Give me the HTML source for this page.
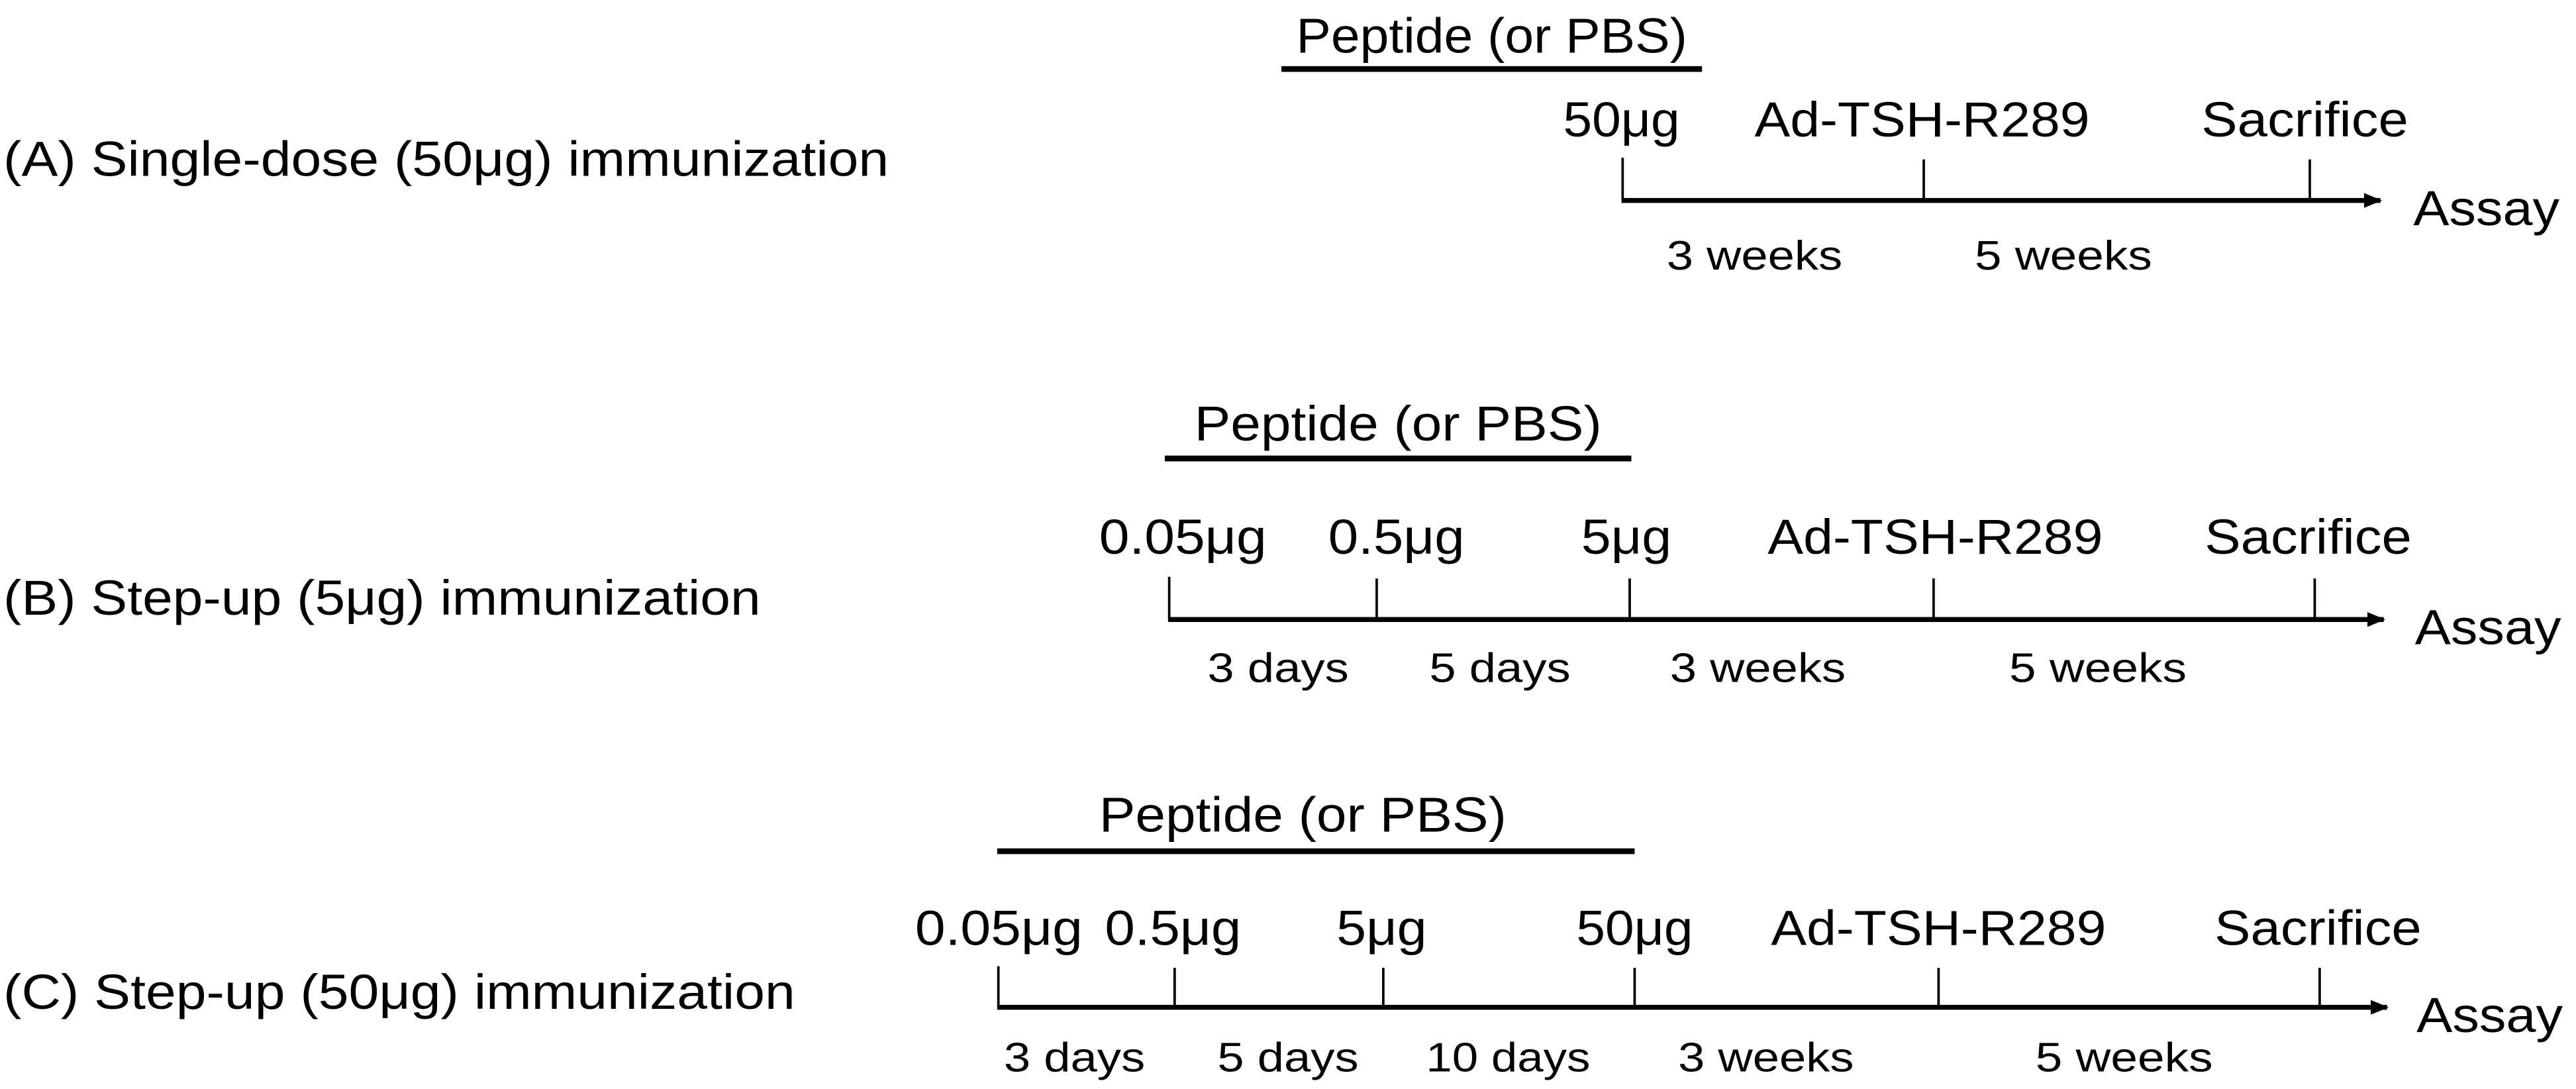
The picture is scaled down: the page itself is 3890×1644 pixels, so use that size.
<!DOCTYPE html>
<html><head><meta charset="utf-8"><style>
html,body{margin:0;padding:0;background:#fff;}
svg{display:block;}
text{font-family:"Liberation Sans",Arial,sans-serif;fill:#000;}
.m{font-size:30px;}
.s{font-size:25px;}
</style></head><body>
<svg width="3890" height="1644" viewBox="0 0 1568 662.7">
<defs><marker id="ar" markerWidth="11" markerHeight="10" refX="10" refY="5" orient="auto" markerUnits="userSpaceOnUse"><path d="M0,0.5 L11,5 L0,9.5 z" fill="#000"/></marker></defs>

<g>
<text class="m" x="2" y="107" textLength="539" lengthAdjust="spacingAndGlyphs">(A) Single-dose (50μg) immunization</text>
<text class="m" x="908" y="32" text-anchor="middle" textLength="238" lengthAdjust="spacingAndGlyphs">Peptide (or PBS)</text>
<line x1="780" y1="42" x2="1036" y2="42" stroke="#000" stroke-width="3.5"/>
<text class="m" x="987" y="83" text-anchor="middle" textLength="71" lengthAdjust="spacingAndGlyphs">50μg</text>
<text class="m" x="1170" y="83" text-anchor="middle" textLength="204" lengthAdjust="spacingAndGlyphs">Ad-TSH-R289</text>
<text class="m" x="1403" y="83" text-anchor="middle" textLength="126" lengthAdjust="spacingAndGlyphs">Sacrifice</text>
<line x1="987" y1="122" x2="1449" y2="122" stroke="#000" stroke-width="3" marker-end="url(#ar)"/>
<g stroke="#000" stroke-width="1.5">
<line x1="987.7" y1="96" x2="987.7" y2="122"/><line x1="1171" y1="97" x2="1171" y2="122"/><line x1="1406" y1="97" x2="1406" y2="122"/></g>
<text class="m" x="1469" y="137" textLength="89" lengthAdjust="spacingAndGlyphs">Assay</text>
<text class="s" x="1068" y="164" text-anchor="middle" textLength="107" lengthAdjust="spacingAndGlyphs">3 weeks</text>
<text class="s" x="1256" y="164" text-anchor="middle" textLength="108" lengthAdjust="spacingAndGlyphs">5 weeks</text>
</g>

<g>
<text class="m" x="2" y="374" textLength="461" lengthAdjust="spacingAndGlyphs">(B) Step-up (5μg) immunization</text>
<text class="m" x="851" y="268" text-anchor="middle" textLength="248" lengthAdjust="spacingAndGlyphs">Peptide (or PBS)</text>
<line x1="709" y1="279" x2="993" y2="279" stroke="#000" stroke-width="3.5"/>
<text class="m" x="720" y="337" text-anchor="middle" textLength="102" lengthAdjust="spacingAndGlyphs">0.05μg</text>
<text class="m" x="850" y="337" text-anchor="middle" textLength="83" lengthAdjust="spacingAndGlyphs">0.5μg</text>
<text class="m" x="990" y="337" text-anchor="middle" textLength="55" lengthAdjust="spacingAndGlyphs">5μg</text>
<text class="m" x="1178" y="337" text-anchor="middle" textLength="204" lengthAdjust="spacingAndGlyphs">Ad-TSH-R289</text>
<text class="m" x="1405" y="337" text-anchor="middle" textLength="126" lengthAdjust="spacingAndGlyphs">Sacrifice</text>
<line x1="711" y1="377" x2="1451" y2="377" stroke="#000" stroke-width="3" marker-end="url(#ar)"/>
<g stroke="#000" stroke-width="1.5">
<line x1="711.7" y1="351" x2="711.7" y2="377"/><line x1="838" y1="352" x2="838" y2="377"/><line x1="992" y1="352" x2="992" y2="377"/><line x1="1177" y1="352" x2="1177" y2="377"/><line x1="1409" y1="352" x2="1409" y2="377"/></g>
<text class="m" x="1470" y="392" textLength="89" lengthAdjust="spacingAndGlyphs">Assay</text>
<text class="s" x="778" y="415" text-anchor="middle" textLength="86" lengthAdjust="spacingAndGlyphs">3 days</text>
<text class="s" x="913" y="415" text-anchor="middle" textLength="86" lengthAdjust="spacingAndGlyphs">5 days</text>
<text class="s" x="1070" y="415" text-anchor="middle" textLength="107" lengthAdjust="spacingAndGlyphs">3 weeks</text>
<text class="s" x="1277" y="415" text-anchor="middle" textLength="108" lengthAdjust="spacingAndGlyphs">5 weeks</text>
</g>

<g>
<text class="m" x="2" y="614" textLength="482" lengthAdjust="spacingAndGlyphs">(C) Step-up (50μg) immunization</text>
<text class="m" x="793" y="506" text-anchor="middle" textLength="248" lengthAdjust="spacingAndGlyphs">Peptide (or PBS)</text>
<line x1="607" y1="518" x2="995" y2="518" stroke="#000" stroke-width="3.5"/>
<text class="m" x="608" y="575" text-anchor="middle" textLength="102" lengthAdjust="spacingAndGlyphs">0.05μg</text>
<text class="m" x="714" y="575" text-anchor="middle" textLength="83" lengthAdjust="spacingAndGlyphs">0.5μg</text>
<text class="m" x="841" y="575" text-anchor="middle" textLength="55" lengthAdjust="spacingAndGlyphs">5μg</text>
<text class="m" x="995" y="575" text-anchor="middle" textLength="71" lengthAdjust="spacingAndGlyphs">50μg</text>
<text class="m" x="1180" y="575" text-anchor="middle" textLength="204" lengthAdjust="spacingAndGlyphs">Ad-TSH-R289</text>
<text class="m" x="1411" y="575" text-anchor="middle" textLength="126" lengthAdjust="spacingAndGlyphs">Sacrifice</text>
<line x1="607" y1="613" x2="1453" y2="613" stroke="#000" stroke-width="3" marker-end="url(#ar)"/>
<g stroke="#000" stroke-width="1.5">
<line x1="607.7" y1="588" x2="607.7" y2="613"/><line x1="715" y1="589" x2="715" y2="613"/><line x1="842" y1="589" x2="842" y2="613"/><line x1="995" y1="589" x2="995" y2="613"/><line x1="1180" y1="589" x2="1180" y2="613"/><line x1="1412" y1="589" x2="1412" y2="613"/></g>
<text class="m" x="1471" y="628" textLength="89" lengthAdjust="spacingAndGlyphs">Assay</text>
<text class="s" x="654" y="652" text-anchor="middle" textLength="86" lengthAdjust="spacingAndGlyphs">3 days</text>
<text class="s" x="784" y="652" text-anchor="middle" textLength="86" lengthAdjust="spacingAndGlyphs">5 days</text>
<text class="s" x="918" y="652" text-anchor="middle" textLength="100" lengthAdjust="spacingAndGlyphs">10 days</text>
<text class="s" x="1075" y="652" text-anchor="middle" textLength="107" lengthAdjust="spacingAndGlyphs">3 weeks</text>
<text class="s" x="1293" y="652" text-anchor="middle" textLength="108" lengthAdjust="spacingAndGlyphs">5 weeks</text>
</g>
</svg>
</body></html>
